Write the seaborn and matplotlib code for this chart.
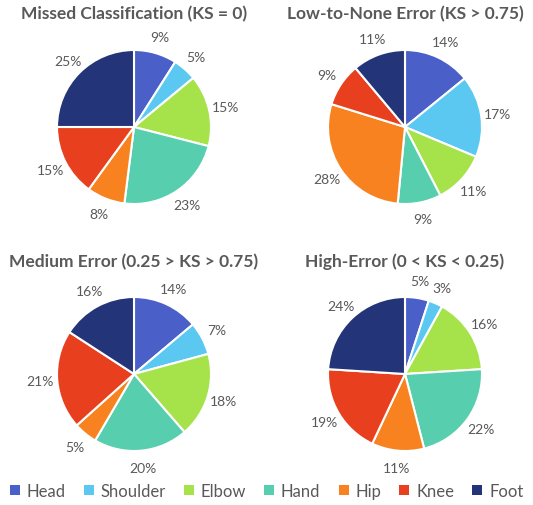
import matplotlib
matplotlib.use("Agg")
import matplotlib.pyplot as plt
from matplotlib.patches import Patch
import seaborn as sns

parts = ["Head", "Shoulder", "Elbow", "Hand", "Hip", "Knee", "Foot"]
titles = [
    "Missed Classification (KS = 0)",
    "Low-to-None Error (KS > 0.75)",
    "Medium Error (0.25 > KS > 0.75)",
    "High-Error (0 < KS < 0.25)",
]
missed = [9, 5, 15, 23, 8, 15, 25]
low_none = [14, 17, 11, 9, 28, 9, 11]
medium = [14, 7, 18, 20, 5, 21, 16]
high = [5, 3, 16, 22, 11, 19, 24]
series = [missed, low_none, medium, high]

colors = ["#4B5FC9", "#5BC8F2", "#A6E24A", "#57CFAE", "#F7821F", "#E8401F", "#233479"]

sns.set_theme(style="white")
plt.rcParams["font.family"] = ["Lato", "DejaVu Sans"]
palette = sns.color_palette(colors)
text_color = "#595959"

W, H = 533, 506
fig = plt.figure(figsize=(W / 100, H / 100), dpi=100)

R = 77          # pie radius in pixels
span = 1.45     # axes half-extent in data units
half = R * span
centers = [(134, 128), (405, 128), (134, 375), (405, 375)]
title_y = [14, 14, 262, 262]

for (cx, cy), vals, title, ty in zip(centers, series, titles, title_y):
    ax = fig.add_axes([(cx - half) / W, (H - cy - half) / H, 2 * half / W, 2 * half / H])
    ax.pie(
        vals,
        colors=palette,
        startangle=90,
        counterclock=False,
        labels=[f"{v}%" for v in vals],
        labeldistance=1.22,
        wedgeprops=dict(edgecolor="white", linewidth=1.5),
        textprops=dict(color=text_color, fontsize=10, ha="center", va="center"),
    )
    for t in ax.texts:
        t.set_ha("center")
    ax.set_xlim(-span, span)
    ax.set_ylim(-span, span)
    ax.set_aspect("equal")
    ax.axis("off")
    fig.text(cx / W, 1 - ty / H, title, ha="center", va="center",
             fontsize=12.5, fontweight="bold", color=text_color)

handles = [Patch(facecolor=c, edgecolor="none") for c in palette]
fig.legend(handles, parts, loc="center", bbox_to_anchor=(0.5, 1 - 492 / H), ncol=7,
           frameon=False, fontsize=12, handlelength=0.6, handleheight=0.6,
           handletextpad=0.4, columnspacing=1.1, labelcolor=text_color)

fig.savefig("out.png", dpi=100, facecolor="white")
